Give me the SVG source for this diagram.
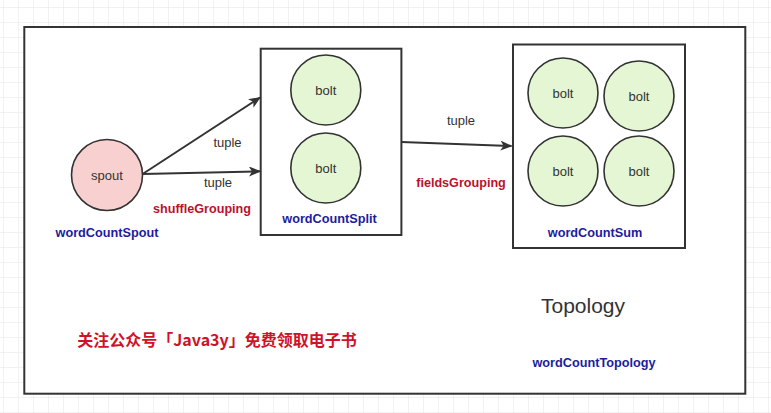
<svg xmlns="http://www.w3.org/2000/svg" width="771" height="413" viewBox="0 0 771 413">
<defs>
<pattern id="grid" x="3" y="7" width="15" height="15" patternUnits="userSpaceOnUse">
<path d="M0 0H15M0 0V15" fill="none" stroke="#e6e6e6" stroke-width="1"/>
</pattern>
<marker id="arr" markerWidth="12" markerHeight="10" refX="11" refY="5" orient="auto" markerUnits="userSpaceOnUse">
<path d="M0 0L12 5L0 10L3 5Z" fill="#333"/>
</marker>
<style>
.box{fill:none;stroke:#333;stroke-width:2}
.bolt{fill:#e4f6d4;stroke:#333;stroke-width:1.6}
.spout{fill:#f9d0d0;stroke:#333;stroke-width:1.6}
.lbl{font-family:"Liberation Sans",Arial,sans-serif;font-size:13px;fill:#333;text-anchor:middle}
.blue{font-family:"Liberation Sans",Arial,sans-serif;font-size:12.7px;font-weight:bold;fill:#1c1c9e;text-anchor:middle}
.red{font-family:"Liberation Sans",Arial,sans-serif;font-size:12.6px;font-weight:bold;fill:#b8122c;text-anchor:middle}
.edge{fill:none;stroke:#333;stroke-width:2;marker-end:url(#arr)}
</style>
</defs>
<rect width="771" height="413" fill="#fff"/>
<rect width="771" height="413" fill="url(#grid)"/>
<g id="topology">
<rect x="24.3" y="27" width="721" height="366.7" fill="#fff" stroke="#333" stroke-width="2"/>
<text x="583" y="313" style="font-family:'Liberation Sans',Arial,sans-serif;font-size:21px;fill:#333;text-anchor:middle">Topology</text>
<text x="594" y="366.5" class="blue">wordCountTopology</text>
</g>
<g id="wordCountSpout">
<circle cx="107" cy="175" r="35.5" class="spout"/>
<text x="107" y="180" class="lbl">spout</text>
<text x="107" y="236.5" class="blue">wordCountSpout</text>
</g>
<g id="wordCountSplit">
<rect x="260.7" y="48.7" width="140.7" height="186.3" class="box" fill="#fff"/>
<circle cx="325.8" cy="90" r="35" class="bolt"/>
<text x="325.8" y="95" class="lbl">bolt</text>
<circle cx="325.8" cy="168" r="35" class="bolt"/>
<text x="325.8" y="173" class="lbl">bolt</text>
<text x="329.5" y="222.8" class="blue">wordCountSplit</text>
</g>
<g id="wordCountSum">
<rect x="513" y="44.5" width="172" height="203.5" class="box"/>
<circle cx="563" cy="93" r="35" class="bolt"/>
<text x="563" y="98" class="lbl">bolt</text>
<circle cx="639" cy="96" r="35" class="bolt"/>
<text x="639" y="101" class="lbl">bolt</text>
<circle cx="563" cy="171" r="35" class="bolt"/>
<text x="563" y="176" class="lbl">bolt</text>
<circle cx="639" cy="171" r="35" class="bolt"/>
<text x="639" y="176" class="lbl">bolt</text>
<text x="595" y="236.8" class="blue">wordCountSum</text>
</g>
<g id="connectors">
<path d="M142.6 174L260 97.5" class="edge"/>
<path d="M142.6 174L260 171.3" class="edge"/>
<path d="M401.4 142L511.5 146" class="edge"/>
<text x="227.5" y="146.7" class="lbl">tuple</text>
<text x="218" y="186.7" class="lbl">tuple</text>
<text x="202" y="212.7" class="red">shuffleGrouping</text>
<text x="461" y="125" class="lbl">tuple</text>
<text x="461" y="187" class="red">fieldsGrouping</text>
</g>
<text x="217" y="346" style="font-family:'Noto Sans CJK SC',sans-serif;font-size:16px;font-weight:bold;fill:#d01229;text-anchor:middle">关注公众号「Java3y」免费领取电子书</text>
</svg>
